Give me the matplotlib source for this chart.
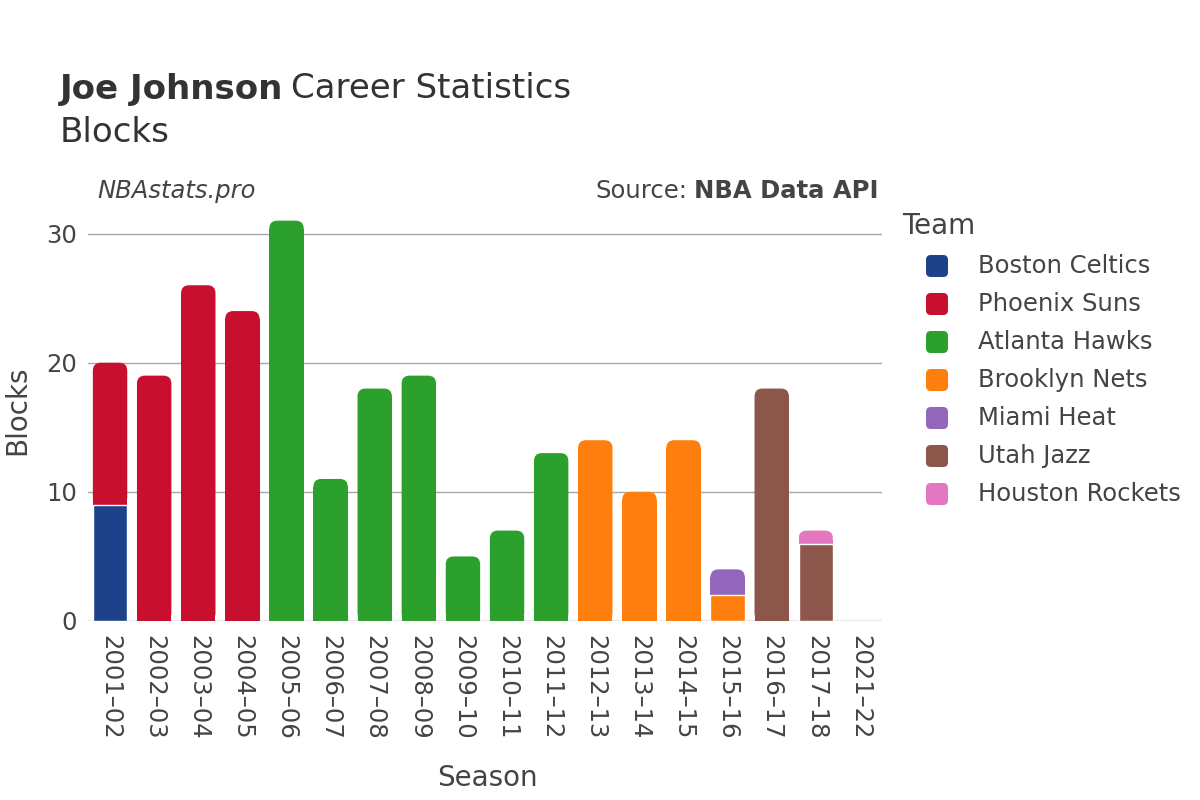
import matplotlib.pyplot as plt
from matplotlib.patches import FancyBboxPatch, Rectangle
import numpy as np

seasons = ['2001–02', '2002–03', '2003–04', '2004–05', '2005–06', '2006–07',
           '2007–08', '2008–09', '2009–10', '2010–11', '2011–12', '2012–13',
           '2013–14', '2014–15', '2015–16', '2016–17', '2017–18', '2021–22']

teams = ['Boston Celtics', 'Phoenix Suns', 'Atlanta Hawks', 'Brooklyn Nets',
         'Miami Heat', 'Utah Jazz', 'Houston Rockets']
colors = ['#1d428a', '#c8102e', '#2ca02c', '#ff7f0e', '#9467bd', '#8c564b', '#e377c2']

boston = [9, 0, 0, 0, 0, 0, 0, 0, 0, 0, 0, 0, 0, 0, 0, 0, 0, 0]
phoenix = [11, 19, 26, 24, 0, 0, 0, 0, 0, 0, 0, 0, 0, 0, 0, 0, 0, 0]
atlanta = [0, 0, 0, 0, 31, 11, 18, 19, 5, 7, 13, 0, 0, 0, 0, 0, 0, 0]
brooklyn = [0, 0, 0, 0, 0, 0, 0, 0, 0, 0, 0, 14, 10, 14, 2, 0, 0, 0]
miami = [0, 0, 0, 0, 0, 0, 0, 0, 0, 0, 0, 0, 0, 0, 2, 0, 0, 0]
utah = [0, 0, 0, 0, 0, 0, 0, 0, 0, 0, 0, 0, 0, 0, 0, 18, 6, 0]
houston = [0, 0, 0, 0, 0, 0, 0, 0, 0, 0, 0, 0, 0, 0, 0, 0, 1, 0]

series = [boston, phoenix, atlanta, brooklyn, miami, utah, houston]

text_color = '#444444'
title_color = '#333333'
plt.rcParams['font.family'] = ['DejaVu Sans']

W, H = 1200, 800
fig = plt.figure(figsize=(12, 8), dpi=100)
ax = fig.add_axes([88 / W, 1 - 621 / H, 794 / W, 421 / H])

x = np.arange(len(seasons))
width = 0.78
ymax = 32.6
ax.set_xlim(-0.5, len(seasons) - 0.5)
ax.set_ylim(0, ymax)

# which team sits on top of each stack
top_idx = []
for i in range(len(seasons)):
    nz = [k for k in range(len(series)) if series[k][i] > 0]
    top_idx.append(nz[-1] if nz else -1)

# rounded corners: convert a pixel radius into data units
x_per_px = len(seasons) / 794
y_per_px = ymax / 421
aspect = y_per_px / x_per_px
r = 8 * x_per_px

bottom = np.zeros(len(seasons))
for k, (team, vals, c) in enumerate(zip(teams, series, colors)):
    vals = np.array(vals, dtype=float)
    bars = ax.bar(x, vals, width, bottom=bottom, color=c, edgecolor='white',
                  linewidth=1.0, zorder=3, label=team)
    for i, rect in enumerate(bars.patches):
        if vals[i] <= 0:
            rect.set_visible(False)
            continue
        if top_idx[i] == k:
            rect.set_visible(False)
            x0, y0 = rect.get_x(), rect.get_y()
            w, h = rect.get_width(), rect.get_height()
            ax.add_patch(FancyBboxPatch((x0, y0), w, h,
                                        boxstyle=f'round,pad=0,rounding_size={r}',
                                        mutation_aspect=aspect, facecolor=c,
                                        edgecolor='none', zorder=2))
            cover = max(h - r * aspect, 0)
            ax.add_patch(Rectangle((x0, y0), w, cover, facecolor=c,
                                   edgecolor='none', zorder=2))
    bottom += vals

# grid and zero line
for yv in [10, 20, 30]:
    ax.axhline(yv, color='#a8a8a8', linewidth=1, zorder=1)
ax.axhline(0, color='#ebebeb', linewidth=2.5, zorder=1)

for s in ax.spines.values():
    s.set_visible(False)
ax.set_yticks([0, 10, 20, 30])
ax.set_yticklabels(['0', '10', '20', '30'])
ax.set_xticks(x)
ax.set_xticklabels(seasons, rotation=-90)
ax.tick_params(axis='both', length=0, labelsize=17.5, colors=text_color)
ax.tick_params(axis='x', pad=10)
ax.tick_params(axis='y', pad=8)

fig.text(487 / W, 1 - 778 / H, 'Season', fontsize=20, color=text_color,
         ha='center', va='center')
fig.text(17 / W, 1 - 410 / H, 'Blocks', rotation=90, fontsize=20,
         color=text_color, ha='center', va='center')

fig.canvas.draw()
renderer = fig.canvas.get_renderer()

# titles
t1 = fig.text(60 / W, 1 - 89 / H, 'Joe Johnson', fontsize=24.5, fontweight='bold',
              color=title_color, va='center', ha='left')
bb = t1.get_window_extent(renderer)
fig.text((bb.x1 + 8) / W, 1 - 89 / H, 'Career Statistics', fontsize=24.5,
         color=title_color, va='center', ha='left')
fig.text(60 / W, 1 - 132 / H, 'Blocks', fontsize=24.5, color=title_color,
         va='center', ha='left')

fig.text(97 / W, 1 - 191 / H, 'NBAstats.pro', fontsize=17.5, style='italic',
         color=text_color, va='center', ha='left')
s2 = fig.text(878 / W, 1 - 191 / H, 'NBA Data API', fontsize=17.5, fontweight='bold',
              color=text_color, va='center', ha='right')
bb = s2.get_window_extent(renderer)
fig.text((bb.x0 - 6) / W, 1 - 191 / H, 'Source:', fontsize=17.5,
         color=text_color, va='center', ha='right')

# legend
fig.text(902 / W, 1 - 226 / H, 'Team', fontsize=20, color=text_color,
         va='center', ha='left')
for j, (team, c) in enumerate(zip(teams, colors)):
    yc = 266 + 38 * j
    fig.patches.append(FancyBboxPatch((926 / W, 1 - (yc + 11) / H), 22 / W, 22 / H,
                                      boxstyle='round,pad=0,rounding_size=0.004',
                                      mutation_aspect=1.5,
                                      facecolor=c, edgecolor='none',
                                      transform=fig.transFigure, figure=fig))
    fig.text(978 / W, 1 - yc / H, team, fontsize=17.5, color=text_color,
             va='center', ha='left')

fig.savefig('out.png', dpi=100)
